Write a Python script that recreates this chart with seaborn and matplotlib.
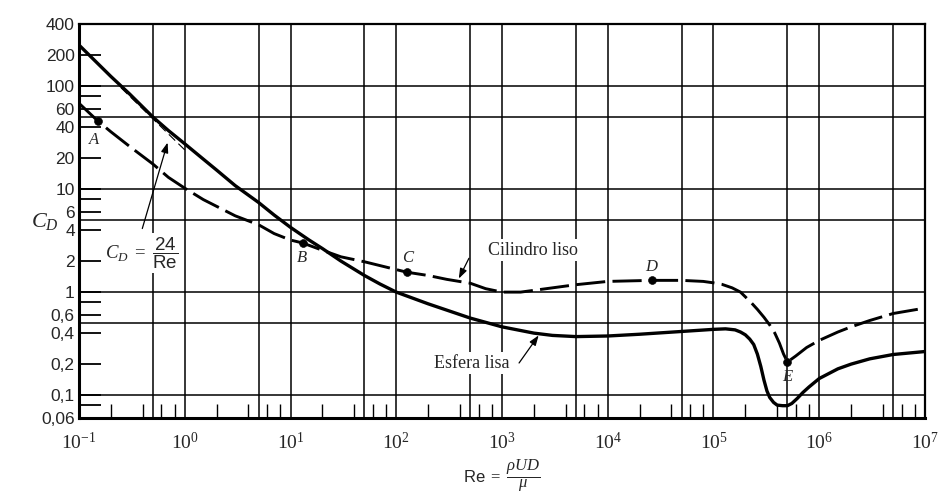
import matplotlib
matplotlib.use("Agg")
import matplotlib.pyplot as plt
import numpy as np
import pandas as pd
import seaborn as sns

# Drag coefficient of a smooth sphere vs Reynolds number
re_sphere = [0.1, 0.2, 0.3, 0.5, 0.7, 1, 1.5, 2, 3, 5, 7, 10, 15, 20, 30, 50,
             70, 100, 200, 500, 1e3, 2e3, 3e3, 5e3, 1e4, 2e4, 5e4, 1e5, 1.3e5,
             1.6e5, 1.8e5, 2e5, 2.2e5, 2.4e5, 2.6e5, 2.8e5, 3e5, 3.2e5, 3.4e5,
             3.7e5, 4e5, 4.5e5, 5e5, 5.5e5, 6.2e5, 7e5, 8e5, 1e6, 1.5e6, 2e6,
             3e6, 5e6, 1e7]
cd_sphere = [250, 124, 84, 50, 37, 27.5, 19.5, 15.3, 10.8, 7.4, 5.6, 4.25, 3.2,
             2.65, 2.0, 1.45, 1.2, 1.0, 0.77, 0.56, 0.46, 0.40, 0.38, 0.37,
             0.375, 0.39, 0.415, 0.435, 0.44, 0.43, 0.41, 0.385, 0.35, 0.31,
             0.25, 0.19, 0.14, 0.11, 0.095, 0.085, 0.08, 0.079, 0.079, 0.083,
             0.093, 0.106, 0.12, 0.145, 0.18, 0.20, 0.225, 0.248, 0.265]

# Drag coefficient of a smooth cylinder vs Reynolds number
re_cyl = [0.1, 0.15, 0.2, 0.3, 0.5, 0.7, 1, 1.5, 2, 3, 5, 7, 10, 13, 20, 30,
          50, 126, 200, 300, 500, 700, 1e3, 1.5e3, 2e3, 3e3, 5e3, 1e4, 2.6e4,
          5e4, 8e4, 1e5, 1.2e5, 1.5e5, 1.8e5, 2e5, 2.3e5, 2.6e5, 3e5, 3.4e5,
          3.8e5, 4.2e5, 4.6e5, 5e5, 5.5e5, 6e5, 7.6e5, 1e6, 1.5e6, 2e6, 3e6,
          5e6, 1e7]
cd_cyl = [68, 46, 36, 26, 17.5, 13, 10.2, 7.9, 6.8, 5.5, 4.5, 3.7, 3.2, 3.0,
          2.55, 2.2, 1.97, 1.56, 1.45, 1.33, 1.22, 1.08, 1.0, 1.0, 1.04, 1.1,
          1.18, 1.27, 1.3, 1.3, 1.27, 1.23, 1.19, 1.1, 1.0, 0.9, 0.78, 0.68,
          0.57, 0.48, 0.40, 0.32, 0.25, 0.21, 0.225, 0.24, 0.29, 0.34, 0.41,
          0.46, 0.53, 0.62, 0.70]

# Marked states on the cylinder curve
point_names = ["A", "B", "C", "D", "E"]
point_re = [0.15, 13, 126, 2.6e4, 5e5]
point_cd = [46, 3.0, 1.56, 1.3, 0.21]

# Stokes law CD = 24/Re over the creeping-flow range
stokes_coef = 24
stokes_re = np.array([0.25, 1.0])
stokes_cd = stokes_coef / stokes_re

# Axis ticks
x_decades = [1e-1, 1e0, 1e1, 1e2, 1e3, 1e4, 1e5, 1e6, 1e7]
x_labels = [r"$10^{-1}$", r"$10^{0}$", r"$10^{1}$", r"$10^{2}$", r"$10^{3}$",
            r"$10^{4}$", r"$10^{5}$", r"$10^{6}$", r"$10^{7}$"]
y_ticks = [0.06, 0.1, 0.2, 0.4, 0.6, 1, 2, 4, 6, 10, 20, 40, 60, 100, 200, 400]
y_labels = ["0,06", "0,1", "0,2", "0,4", "0,6", "1", "2", "4", "6", "10", "20",
            "40", "60", "100", "200", "400"]
y_extra_ticks = [0.08, 0.8, 8, 80]
x_grid = [0.5, 1, 5, 10, 50, 100, 500, 1e3, 5e3, 1e4, 5e4, 1e5, 5e5, 1e6, 5e6]
y_grid = [0.1, 0.5, 1, 5, 10, 50, 100]

sns.set_theme(style="white")
plt.rcParams["font.family"] = ["Liberation Sans", "DejaVu Sans"]
plt.rcParams["mathtext.fontset"] = "custom"
plt.rcParams["mathtext.rm"] = "Liberation Serif"
plt.rcParams["mathtext.it"] = "Liberation Serif:italic"
plt.rcParams["mathtext.bf"] = "Liberation Serif:bold"
plt.rcParams["mathtext.sf"] = "Liberation Sans"

fig = plt.figure(figsize=(9.43, 4.97), dpi=100)
fig.patch.set_facecolor("white")
ax = fig.add_axes([79 / 943, 1 - 418 / 497, 846 / 943, 394 / 497])
ax.set_facecolor("white")
ax.set_xscale("log")
ax.set_yscale("log")
ax.set_xlim(1e-1, 1e7)
ax.set_ylim(0.06, 400)

for gx in x_grid:
    ax.axvline(gx, color="black", lw=1.1, zorder=1)
for gy in y_grid:
    ax.axhline(gy, color="black", lw=1.1, zorder=1)

sphere = pd.DataFrame({"Re": re_sphere, "CD": cd_sphere})
cyl = pd.DataFrame({"Re": re_cyl, "CD": cd_cyl})

sns.lineplot(data=sphere, x="Re", y="CD", ax=ax, color="black", lw=2.4,
             errorbar=None, sort=False, zorder=4)
sns.lineplot(data=cyl, x="Re", y="CD", ax=ax, color="black", lw=2.1,
             linestyle=(0, (10, 2.5)), errorbar=None, sort=False, zorder=4)
ax.plot(stokes_re, stokes_cd, color="black", lw=0.8,
        linestyle=(0, (8, 4)), zorder=3)
sns.scatterplot(x=point_re, y=point_cd, ax=ax, color="black", s=32,
                edgecolor="black", zorder=5)

label_pos = {"A": (0.14, 30), "B": (12.8, 2.14), "C": (129, 2.14),
             "D": (2.56e4, 1.75), "E": (5e5, 0.15)}
for name in point_names:
    lx, ly = label_pos[name]
    ax.text(lx, ly, name, family="Liberation Serif", style="italic",
            fontsize=12, ha="center", va="center", zorder=6)

white_box = dict(facecolor="white", edgecolor="none", pad=1.5)
arrow = dict(arrowstyle="-|>,head_length=0.5,head_width=0.18",
             color="black", lw=0.9)

ax.text(1963, 2.56, "Cilindro liso", family="Liberation Serif", fontsize=13,
        ha="center", va="center", bbox=white_box, zorder=2)
ax.annotate("", xy=(380, 1.28), xytext=(500, 2.25), arrowprops=arrow,
            zorder=6)

ax.text(520, 0.205, "Esfera lisa", family="Liberation Serif", fontsize=13,
        ha="center", va="center", bbox=white_box, zorder=2)
ax.annotate("", xy=(2300, 0.40), xytext=(1400, 0.195), arrowprops=arrow,
            zorder=6)

ax.text(0.39, 2.4, r"$C_D\ =\ \dfrac{\mathsf{24}}{\mathsf{Re}}$", fontsize=13.5,
        ha="center", va="center", bbox=white_box, zorder=2)
ax.annotate("", xy=(0.7, 30), xytext=(0.39, 3.9), arrowprops=arrow, zorder=6)

# Ticks
ax.xaxis.set_major_locator(matplotlib.ticker.FixedLocator(x_decades))
ax.xaxis.set_major_formatter(matplotlib.ticker.FixedFormatter(x_labels))
x_minor = [m * d for d in x_decades[:-1] for m in (2, 4, 6, 8)]
ax.xaxis.set_minor_locator(matplotlib.ticker.FixedLocator(x_minor))
ax.xaxis.set_minor_formatter(matplotlib.ticker.NullFormatter())
ax.tick_params(axis="x", which="major", length=0, pad=10, labelsize=14)
ax.tick_params(axis="x", which="minor", direction="in", length=10, width=1.0,
               color="black", bottom=True)

ax.yaxis.set_major_locator(matplotlib.ticker.FixedLocator(y_ticks))
ax.yaxis.set_major_formatter(matplotlib.ticker.FixedFormatter(y_labels))
ax.yaxis.set_minor_locator(matplotlib.ticker.FixedLocator(y_extra_ticks))
ax.yaxis.set_minor_formatter(matplotlib.ticker.NullFormatter())
ax.tick_params(axis="y", which="both", direction="in", length=16, width=1.3,
               color="black", left=True, pad=3, labelsize=12.5)

for side, w in {"left": 2.2, "bottom": 2.2, "top": 1.6, "right": 1.6}.items():
    ax.spines[side].set_visible(True)
    ax.spines[side].set_color("black")
    ax.spines[side].set_linewidth(w)

ax.set_xlabel("")
ax.set_ylabel("")
fig.text(45 / 943, 1 - 221 / 497, r"$C_D$", fontsize=16, ha="center",
         va="center")
fig.text(502 / 943, 1 - 476 / 497, r"$\mathsf{Re}\ =\ \dfrac{\rho UD}{\mu}$",
         fontsize=12, ha="center", va="center")

fig.savefig("out.png", dpi=100, facecolor="white")
